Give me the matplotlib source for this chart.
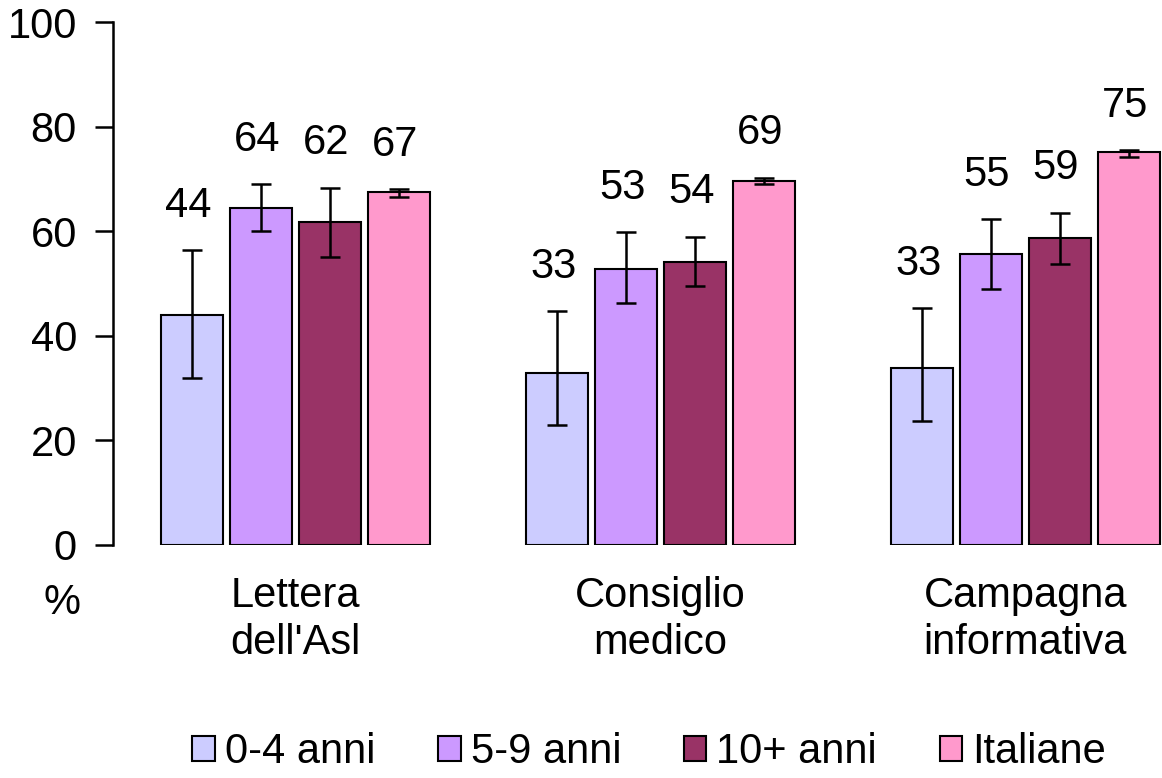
import numpy as np
import matplotlib
matplotlib.use("Agg")
import matplotlib.pyplot as plt

plt.rcParams["font.family"] = ["Liberation Sans", "DejaVu Sans"]

# dati
categorie = ["Lettera\ndell'Asl", "Consiglio\nmedico", "Campagna\ninformativa"]
serie = ["0-4 anni", "5-9 anni", "10+ anni", "Italiane"]
colori = ["#CCCCFF", "#CC99FF", "#993366", "#FF99CC"]

valori = [
    [44.0, 32.9, 33.8],
    [64.4, 52.8, 55.6],
    [61.8, 54.1, 58.7],
    [67.5, 69.6, 75.1],
]
err_basso = [
    [31.9, 23.0, 23.7],
    [60.0, 46.3, 48.9],
    [55.0, 49.5, 53.7],
    [66.6, 69.0, 74.2],
]
err_alto = [
    [56.4, 44.7, 45.3],
    [69.0, 59.8, 62.3],
    [68.3, 58.9, 63.5],
    [68.0, 70.2, 75.5],
]
etichette = [
    ["44", "33", "33"],
    ["64", "53", "55"],
    ["62", "54", "59"],
    ["67", "69", "75"],
]

FS = 30

fig = plt.figure(figsize=(11.62, 7.78), dpi=100)
ax = fig.add_axes([113 / 1162, 1 - 545 / 778, 1 - 113 / 1162, 523 / 778])

x = np.arange(len(categorie))
passo = 0.189
larghezza = 0.17

for i, nome in enumerate(serie):
    pos = x + (i - 1.5) * passo
    v = np.array(valori[i])
    lo = v - np.array(err_basso[i])
    hi = np.array(err_alto[i]) - v
    ax.bar(pos, v, width=larghezza, color=colori[i], edgecolor="black",
           linewidth=1.5, label=nome, zorder=2)
    ax.errorbar(pos, v, yerr=[lo, hi], fmt="none", ecolor="black",
                elinewidth=1.8, capsize=7, capthick=1.8, zorder=3)
    for p, top, txt in zip(pos, err_alto[i], etichette[i]):
        ax.text(p - 0.01, top + 8.5, txt, ha="center", va="center", fontsize=FS)

ax.set_ylim(0, 100)
ax.set_xlim(-0.5, 2.375)
ax.set_yticks([0, 20, 40, 60, 80, 100])
ax.tick_params(axis="y", labelsize=FS, length=13, width=1.8, direction="out", pad=13)
ax.set_xticks([])

for s in ["top", "right", "bottom"]:
    ax.spines[s].set_visible(False)
ax.spines["left"].set_linewidth(1.8)

# etichette categorie
for xi, cat in zip(x, categorie):
    ax.text(xi, -6.0, cat, ha="center", va="top", fontsize=FS,
            linespacing=1.2, clip_on=False)

fig.text(62 / 1162, 1 - 603 / 778, "%", ha="center", va="center", fontsize=FS)

fig.legend(loc="center", bbox_to_anchor=(649 / 1162, 1 - 752 / 778), ncol=4,
           frameon=False, fontsize=FS, handlelength=0.55, handleheight=0.53,
           handletextpad=0.24, columnspacing=1.5, borderaxespad=0, borderpad=0)

fig.savefig("out.png", dpi=100)
